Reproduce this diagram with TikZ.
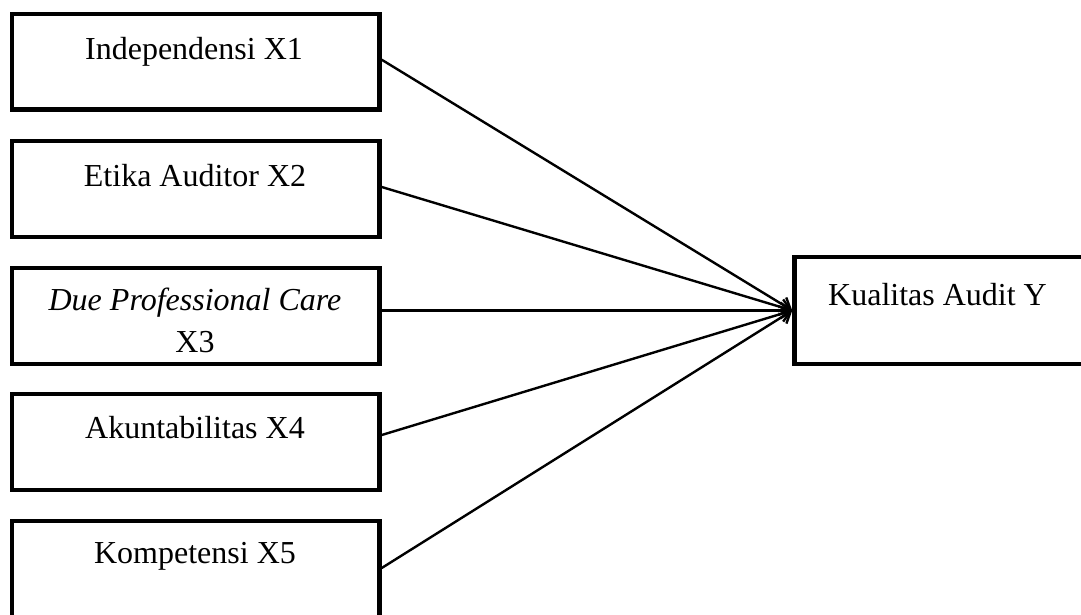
\documentclass[tikz,border=0pt]{standalone}
\usepackage{fontspec}
\setmainfont{Liberation Serif}
\usetikzlibrary{arrows.meta}
\begin{document}
\begin{tikzpicture}[x=1pt,y=-1pt,
  box/.style={draw=black,line width=4.5pt,rectangle,inner sep=0pt,minimum width=367.5pt,minimum height=96pt},
  ybox/.style={draw=black,line width=4.5pt,rectangle,inner sep=0pt,minimum width=288.5pt,minimum height=107pt},
  lbl/.style={font=\fontsize{32pt}{42pt}\selectfont,inner sep=0pt,anchor=base,align=center},
  arr/.style={line width=2.4pt,-{Straight Barb[length=10pt,width=16pt]}}]
\useasboundingbox (0,0) rectangle (1081,615);
\clip (0,0) rectangle (1081,615);
\node[box,minimum height=95.5pt] (X1) at (195.75,61.75) {};
\node[box] (X2) at (195.75,189) {};
\node[box] (X3) at (195.75,316) {};
\node[box] (X4) at (195.75,442) {};
\node[box] (X5) at (195.75,569) {};
\node[ybox] (Y) at (938.75,310.5) {};
\node[lbl] (t1) at (194,60) {Independensi X1};
\node[lbl] (t2) at (195,186) {Etika Auditor X2};
\node[lbl] (t3) at (195,352) {\textit{Due Professional Care}\\X3};
\node[lbl] (t4) at (195,438) {Akuntabilitas X4};
\node[lbl] (t5) at (195,563) {Kompetensi X5};
\node[lbl] (ty) at (937.5,305) {Kualitas Audit Y};
\draw[arr] ([yshift=2pt]X1.east) -- (Y.west);
\draw[arr] ([yshift=2pt]X2.east) -- (Y.west);
\draw[arr] ([yshift=5.5pt]X3.east) -- (Y.west);
\draw[arr] ([yshift=7pt]X4.east) -- (Y.west);
\draw[arr] ([yshift=1pt]X5.east) -- (Y.west);
\end{tikzpicture}
\end{document}
